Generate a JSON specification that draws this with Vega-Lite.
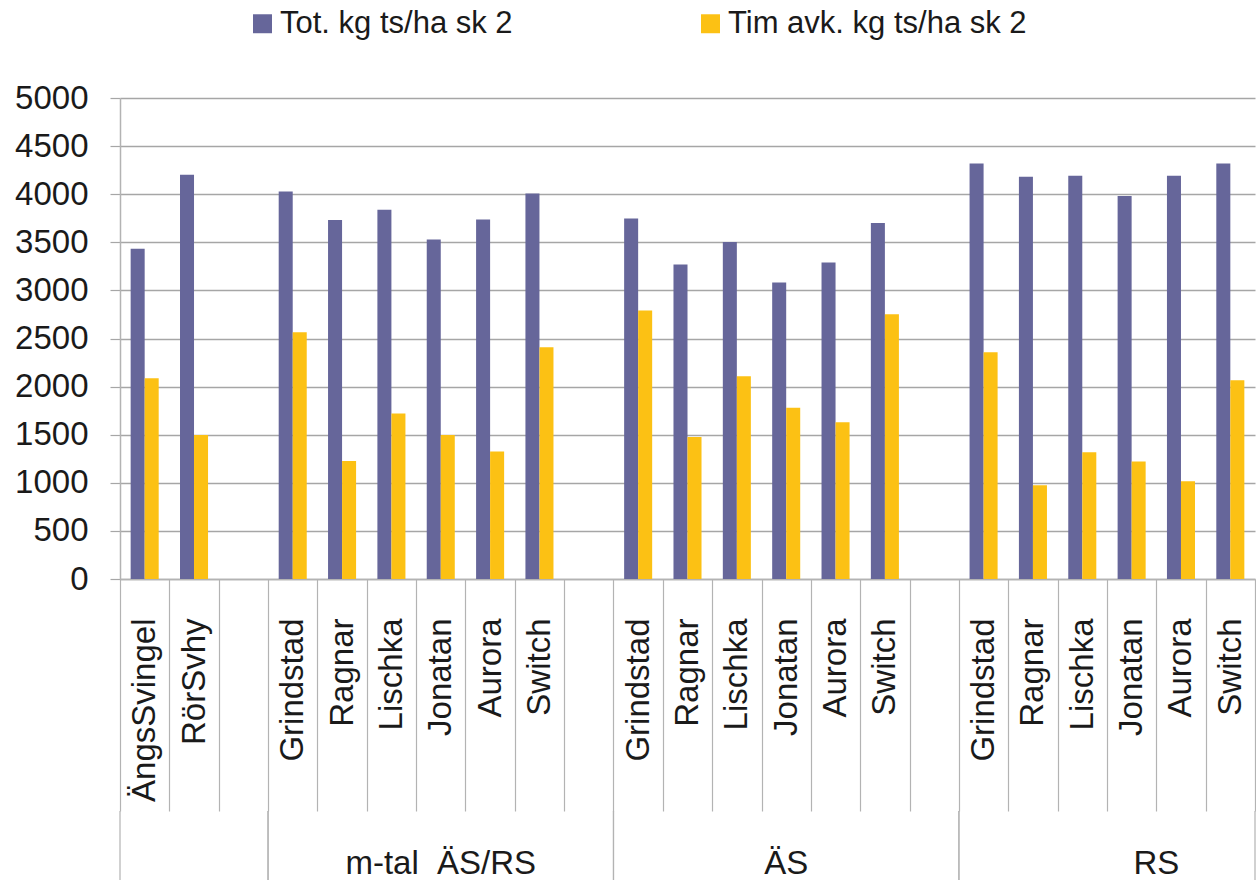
{
  "$schema": "https://vega.github.io/schema/vega-lite/v6.json",
  "background": "white",
  "padding": {"left": 14, "top": 8, "right": 0, "bottom": 0},
  "autosize": {"type": "pad"},
  "config": {
    "font": "Liberation Sans",
    "view": {"stroke": null}
  },
  "datasets": {
    "bars": [
      {"group": "", "cat": "a|ÄngsSvingel", "series": "Tot. kg ts/ha sk 2", "value": 3433},
      {"group": "", "cat": "a|ÄngsSvingel", "series": "Tim avk. kg ts/ha sk 2", "value": 2087},
      {"group": "", "cat": "a|RörSvhy", "series": "Tot. kg ts/ha sk 2", "value": 4202},
      {"group": "", "cat": "a|RörSvhy", "series": "Tim avk. kg ts/ha sk 2", "value": 1498},
      {"group": "m-tal  ÄS/RS", "cat": "m|Grindstad", "series": "Tot. kg ts/ha sk 2", "value": 4029},
      {"group": "m-tal  ÄS/RS", "cat": "m|Grindstad", "series": "Tim avk. kg ts/ha sk 2", "value": 2566},
      {"group": "m-tal  ÄS/RS", "cat": "m|Ragnar", "series": "Tot. kg ts/ha sk 2", "value": 3731},
      {"group": "m-tal  ÄS/RS", "cat": "m|Ragnar", "series": "Tim avk. kg ts/ha sk 2", "value": 1227},
      {"group": "m-tal  ÄS/RS", "cat": "m|Lischka", "series": "Tot. kg ts/ha sk 2", "value": 3838},
      {"group": "m-tal  ÄS/RS", "cat": "m|Lischka", "series": "Tim avk. kg ts/ha sk 2", "value": 1720},
      {"group": "m-tal  ÄS/RS", "cat": "m|Jonatan", "series": "Tot. kg ts/ha sk 2", "value": 3530},
      {"group": "m-tal  ÄS/RS", "cat": "m|Jonatan", "series": "Tim avk. kg ts/ha sk 2", "value": 1498},
      {"group": "m-tal  ÄS/RS", "cat": "m|Aurora", "series": "Tot. kg ts/ha sk 2", "value": 3738},
      {"group": "m-tal  ÄS/RS", "cat": "m|Aurora", "series": "Tim avk. kg ts/ha sk 2", "value": 1325},
      {"group": "m-tal  ÄS/RS", "cat": "m|Switch", "series": "Tot. kg ts/ha sk 2", "value": 4008},
      {"group": "m-tal  ÄS/RS", "cat": "m|Switch", "series": "Tim avk. kg ts/ha sk 2", "value": 2410},
      {"group": "ÄS", "cat": "ä|Grindstad", "series": "Tot. kg ts/ha sk 2", "value": 3748},
      {"group": "ÄS", "cat": "ä|Grindstad", "series": "Tim avk. kg ts/ha sk 2", "value": 2791},
      {"group": "ÄS", "cat": "ä|Ragnar", "series": "Tot. kg ts/ha sk 2", "value": 3270},
      {"group": "ÄS", "cat": "ä|Ragnar", "series": "Tim avk. kg ts/ha sk 2", "value": 1477},
      {"group": "ÄS", "cat": "ä|Lischka", "series": "Tot. kg ts/ha sk 2", "value": 3502},
      {"group": "ÄS", "cat": "ä|Lischka", "series": "Tim avk. kg ts/ha sk 2", "value": 2108},
      {"group": "ÄS", "cat": "ä|Jonatan", "series": "Tot. kg ts/ha sk 2", "value": 3082},
      {"group": "ÄS", "cat": "ä|Jonatan", "series": "Tim avk. kg ts/ha sk 2", "value": 1779},
      {"group": "ÄS", "cat": "ä|Aurora", "series": "Tot. kg ts/ha sk 2", "value": 3291},
      {"group": "ÄS", "cat": "ä|Aurora", "series": "Tim avk. kg ts/ha sk 2", "value": 1630},
      {"group": "ÄS", "cat": "ä|Switch", "series": "Tot. kg ts/ha sk 2", "value": 3700},
      {"group": "ÄS", "cat": "ä|Switch", "series": "Tim avk. kg ts/ha sk 2", "value": 2753},
      {"group": "RS", "cat": "r|Grindstad", "series": "Tot. kg ts/ha sk 2", "value": 4320},
      {"group": "RS", "cat": "r|Grindstad", "series": "Tim avk. kg ts/ha sk 2", "value": 2358},
      {"group": "RS", "cat": "r|Ragnar", "series": "Tot. kg ts/ha sk 2", "value": 4182},
      {"group": "RS", "cat": "r|Ragnar", "series": "Tim avk. kg ts/ha sk 2", "value": 974},
      {"group": "RS", "cat": "r|Lischka", "series": "Tot. kg ts/ha sk 2", "value": 4192},
      {"group": "RS", "cat": "r|Lischka", "series": "Tim avk. kg ts/ha sk 2", "value": 1318},
      {"group": "RS", "cat": "r|Jonatan", "series": "Tot. kg ts/ha sk 2", "value": 3981},
      {"group": "RS", "cat": "r|Jonatan", "series": "Tim avk. kg ts/ha sk 2", "value": 1221},
      {"group": "RS", "cat": "r|Aurora", "series": "Tot. kg ts/ha sk 2", "value": 4192},
      {"group": "RS", "cat": "r|Aurora", "series": "Tim avk. kg ts/ha sk 2", "value": 1016},
      {"group": "RS", "cat": "r|Switch", "series": "Tot. kg ts/ha sk 2", "value": 4320},
      {"group": "RS", "cat": "r|Switch", "series": "Tim avk. kg ts/ha sk 2", "value": 2067}
    ],
    "groups": [
      {"group": "", "first": "a|ÄngsSvingel", "last": "a|", "label_at": "a|RörSvhy", "edge": false},
      {"group": "m-tal\u00a0 ÄS/RS", "first": "m|Grindstad", "last": "m|", "label_at": "m|Jonatan", "edge": false},
      {"group": "ÄS", "first": "ä|Grindstad", "last": "ä|", "label_at": "ä|Jonatan", "edge": false},
      {"group": "RS", "first": "r|Grindstad", "last": "r|Switch", "label_at": "r|Aurora", "edge": true}
    ]
  },
  "bounds": "flush",
  "spacing": 232,
  "vconcat": [
    {
      "width": 1135,
      "height": 481,
      "data": {"name": "bars"},
      "mark": {"type": "bar"},
      "encoding": {
        "x": {
          "field": "cat", "type": "nominal", "title": null,
          "scale": {
            "domain": ["a|ÄngsSvingel", "a|RörSvhy", "a|", "m|Grindstad", "m|Ragnar", "m|Lischka", "m|Jonatan", "m|Aurora", "m|Switch", "m|", "ä|Grindstad", "ä|Ragnar", "ä|Lischka", "ä|Jonatan", "ä|Aurora", "ä|Switch", "ä|", "r|Grindstad", "r|Ragnar", "r|Lischka", "r|Jonatan", "r|Aurora", "r|Switch"],
            "paddingInner": 0, "paddingOuter": 0
          },
          "axis": {
            "labelExpr": "split(datum.value, '|')[1]",
            "labelAngle": 270, "labelAlign": "right", "labelBaseline": "middle",
            "labelPadding": -193, "labelFontSize": 33, "labelColor": "#1a1a1a",
            "labelLimit": 400, "labelOverlap": false,
            "tickBand": "extent", "tickSize": 232, "tickColor": "#b3b3b3", "tickWidth": 1.2,
            "domainColor": "#b3b3b3", "domainWidth": 1.5, "grid": false
          }
        },
        "xOffset": {
          "field": "series", "type": "nominal",
          "scale": {"domain": ["Tot. kg ts/ha sk 2", "Tim avk. kg ts/ha sk 2"], "paddingInner": 0, "paddingOuter": 0.76}
        },
        "y": {
          "field": "value", "type": "quantitative", "title": null,
          "scale": {"domain": [0, 5000], "nice": false},
          "axis": {
            "values": [0, 500, 1000, 1500, 2000, 2500, 3000, 3500, 4000, 4500, 5000],
            "format": "d",
            "labelFontSize": 33, "labelColor": "#1a1a1a", "labelPadding": 22,
            "tickSize": 10, "tickColor": "#a6a6a6", "tickWidth": 1.2,
            "domainColor": "#b3b3b3", "domainWidth": 1.5,
            "gridColor": "#a6a6a6", "gridWidth": 1.3
          }
        },
        "color": {
          "field": "series", "type": "nominal",
          "scale": {"domain": ["Tot. kg ts/ha sk 2", "Tim avk. kg ts/ha sk 2"], "range": ["#66669a", "#fcc114"]},
          "legend": {
            "title": null, "orient": "none", "direction": "horizontal",
            "legendX": 127, "legendY": -90,
            "symbolType": "square", "symbolSize": 360, "symbolStrokeWidth": 0, "symbolOpacity": 1,
            "labelFont": "Liberation Sans",
            "labelFontSize": 31, "labelColor": "#1a1a1a", "labelOffset": 2,
            "columnPadding": 182, "labelLimit": 400
          }
        }
      }
    },
    {
      "width": 1135,
      "height": 69,
      "data": {"name": "groups"},
      "encoding": {
        "x": {
          "field": "first", "type": "nominal",
          "scale": {
            "domain": ["a|ÄngsSvingel", "a|RörSvhy", "a|", "m|Grindstad", "m|Ragnar", "m|Lischka", "m|Jonatan", "m|Aurora", "m|Switch", "m|", "ä|Grindstad", "ä|Ragnar", "ä|Lischka", "ä|Jonatan", "ä|Aurora", "ä|Switch", "ä|", "r|Grindstad", "r|Ragnar", "r|Lischka", "r|Jonatan", "r|Aurora", "r|Switch"],
            "paddingInner": 0, "paddingOuter": 0
          },
          "axis": null
        }
      },
      "layer": [
        {
          "mark": {"type": "rule", "color": "#b3b3b3", "strokeWidth": 1.2},
          "encoding": {
            "x": {"field": "first", "type": "nominal", "bandPosition": 0, "axis": null}
          }
        },
        {
          "mark": {"type": "rule", "color": "#b3b3b3", "strokeWidth": 1.2},
          "encoding": {
            "x": {"field": "last", "type": "nominal", "bandPosition": 1, "axis": null}
          }
        },
        {
          "transform": [{"filter": "datum.edge == false"}],
          "mark": {"type": "text", "fontSize": 33, "baseline": "alphabetic", "dy": 28, "color": "#1a1a1a"},
          "encoding": {
            "x": {"field": "label_at", "type": "nominal", "bandPosition": 0.5, "axis": null},
            "text": {"field": "group"}
          }
        },
        {
          "transform": [{"filter": "datum.edge == true"}],
          "mark": {"type": "text", "fontSize": 33, "baseline": "alphabetic", "dy": 28, "color": "#1a1a1a"},
          "encoding": {
            "x": {"field": "label_at", "type": "nominal", "bandPosition": 0, "axis": null},
            "text": {"field": "group"}
          }
        }
      ]
    }
  ]
}
